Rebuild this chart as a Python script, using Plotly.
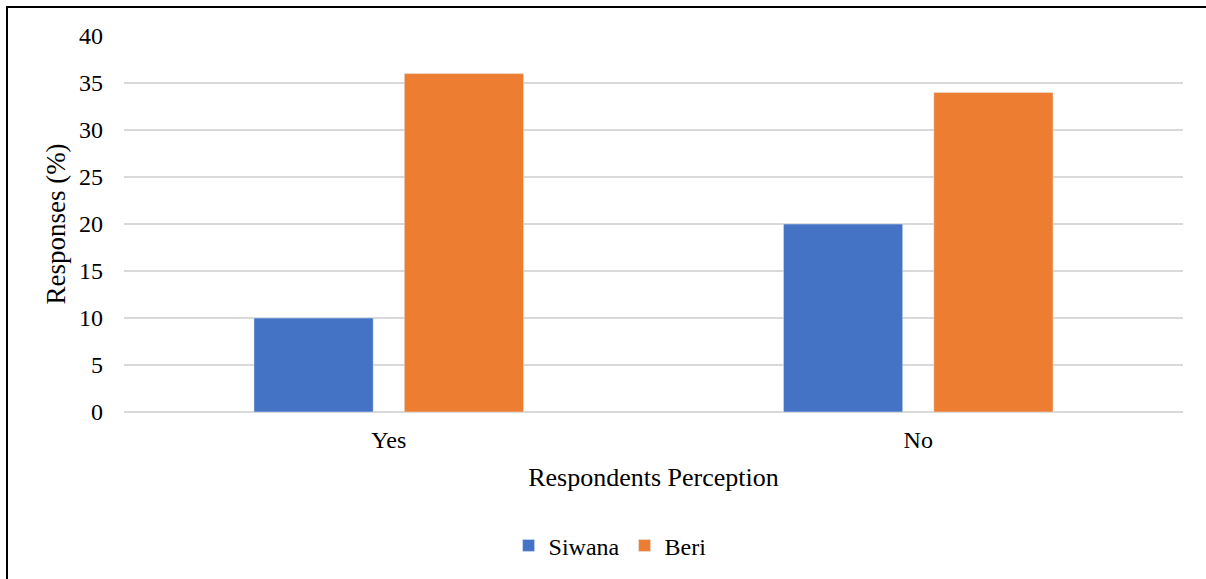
import plotly.graph_objects as go

categories = ["Yes", "No"]
siwana = [10, 20]
beri = [36, 34]
y_ticks = [0, 5, 10, 15, 20, 25, 30, 35, 40]

W, H = 1206, 579
L, R, T, B = 124, 23, 36, 167
pw, ph = W - L - R, H - T - B

font = "Liberation Serif, Times New Roman, serif"

fig = go.Figure()
fig.add_trace(go.Bar(name="Siwana", x=categories, y=siwana, marker_color="#4472C4"))
fig.add_trace(go.Bar(name="Beri", x=categories, y=beri, marker_color="#ED7D31"))

fig.update_layout(
    width=W, height=H,
    margin=dict(l=L, r=R, t=T, b=B, autoexpand=False),
    paper_bgcolor="white", plot_bgcolor="white",
    barmode="group", bargap=0.432, bargroupgap=0.207,
    font=dict(family=font, color="black", size=24),
    xaxis=dict(
        title=dict(text="Respondents Perception", font=dict(size=26), standoff=15),
        showgrid=False, showline=False, ticks="", tickfont=dict(size=24),
        ticklabelstandoff=11,
    ),
    yaxis=dict(
        title=dict(text="Responses (%)", font=dict(size=27), standoff=5),
        range=[0, 40], tickvals=y_ticks, showgrid=True, gridcolor="#d9d9d9", gridwidth=1.5,
        zeroline=True, zerolinecolor="#d9d9d9", zerolinewidth=1.5,
        ticks="", ticklabelstandoff=20, tickfont=dict(size=24),
    ),
    legend=dict(orientation="h", x=0.459, xanchor="center", y=-0.296, yanchor="top",
                font=dict(size=24), itemwidth=30, traceorder="normal"),
    showlegend=True,
)

fig.add_shape(type="rect", xref="paper", yref="paper",
              x0=(7 - L) / pw, x1=(W + 5 - L) / pw,
              y0=-(H + 5 - T - ph) / ph, y1=1 + (T - 7) / ph,
              line=dict(color="black", width=2), fillcolor="rgba(0,0,0,0)", layer="below")

fig.write_html("out.html", post_script="document.body.style.margin='0';",
               config={"displayModeBar": False})
